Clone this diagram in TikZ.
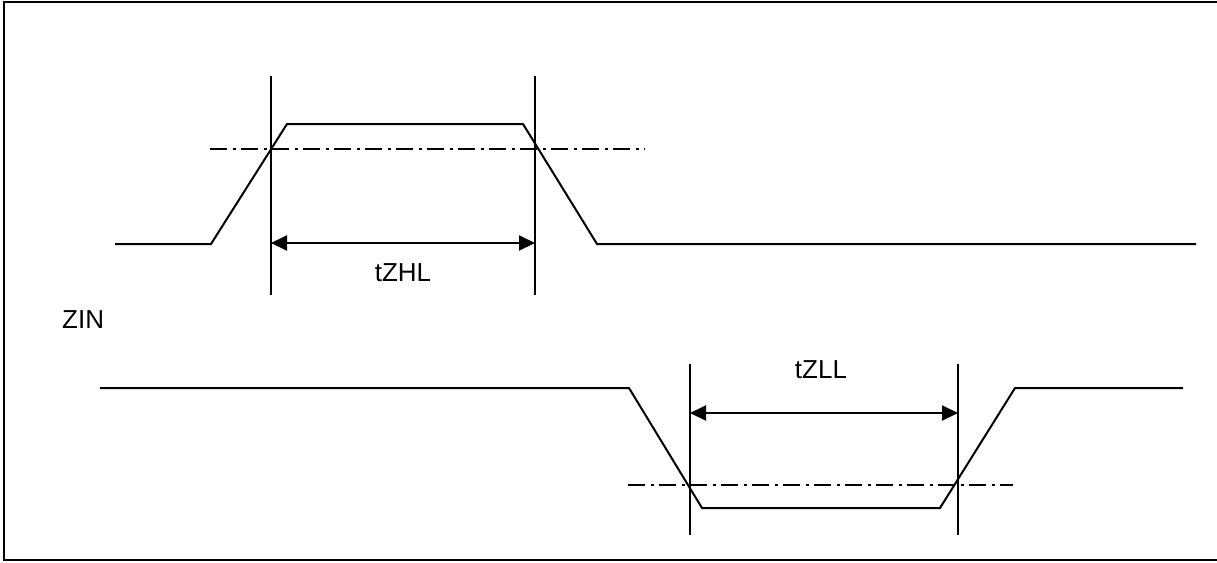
\documentclass[tikz,border=0pt]{standalone}
\usepackage{fontspec}
\setmainfont{Liberation Sans}
\usetikzlibrary{arrows.meta}
\begin{document}
\begin{tikzpicture}[x=1pt,y=-1pt,
  wave/.style={line width=2pt, line join=miter},
  mark line/.style={line width=1.8pt},
  dashdot/.style={line width=2pt, dash pattern=on 17pt off 5.5pt on 3pt off 5.5pt},
  dim/.style={line width=2pt, {Triangle[length=16pt,width=15pt]}-{Triangle[length=16pt,width=15pt]}},
  lbl/.style={font=\fontsize{26}{31}\selectfont, inner sep=0pt, anchor=base}]
\useasboundingbox (0,0) rectangle (1217,562);
% frame
\draw[line width=2.4pt] (1217,2) -- (4,2) -- (4,560) -- (1217,560);
% top waveform
\coordinate (a1) at (115,244);
\coordinate (a2) at (211,244);
\coordinate (a3) at (287,124);
\coordinate (a4) at (523,124);
\coordinate (a5) at (597,244);
\coordinate (a6) at (1196,244);
\draw[wave] (a1) -- (a2) -- (a3) -- (a4) -- (a5) -- (a6);
% top vertical markers
\coordinate (v1t) at (271,76);  \coordinate (v1b) at (271,295);
\coordinate (v2t) at (535,76);  \coordinate (v2b) at (535,295);
\draw[mark line] (v1t) -- (v1b);
\draw[mark line] (v2t) -- (v2b);
% top threshold
\coordinate (d1s) at (210,149); \coordinate (d1e) at (645,149);
\draw[dashdot] (d1s) -- (d1e);
% top dimension
\coordinate (h1) at (271,243); \coordinate (h2) at (535,243);
\draw[dim] (h1) -- (h2);
\node[lbl] (tzhl) at (403,281) {tZHL};
% signal name
\node[lbl, anchor=base west] (zin) at (62,328) {ZIN};
% bottom waveform
\coordinate (b1) at (100,388);
\coordinate (b2) at (629,388);
\coordinate (b3) at (702,508);
\coordinate (b4) at (940,508);
\coordinate (b5) at (1015,388);
\coordinate (b6) at (1183,388);
\draw[wave] (b1) -- (b2) -- (b3) -- (b4) -- (b5) -- (b6);
% bottom vertical markers
\coordinate (v3t) at (690,364);  \coordinate (v3b) at (690,535);
\coordinate (v4t) at (958,364);  \coordinate (v4b) at (958,535);
\draw[mark line] (v3t) -- (v3b);
\draw[mark line] (v4t) -- (v4b);
% bottom threshold
\coordinate (d2s) at (628,485); \coordinate (d2e) at (1013,485);
\draw[dashdot] (d2s) -- (d2e);
% bottom dimension
\coordinate (h3) at (690,413); \coordinate (h4) at (958,413);
\draw[dim] (h3) -- (h4);
\node[lbl] (tzll) at (821,378) {tZLL};
\end{tikzpicture}
\end{document}
